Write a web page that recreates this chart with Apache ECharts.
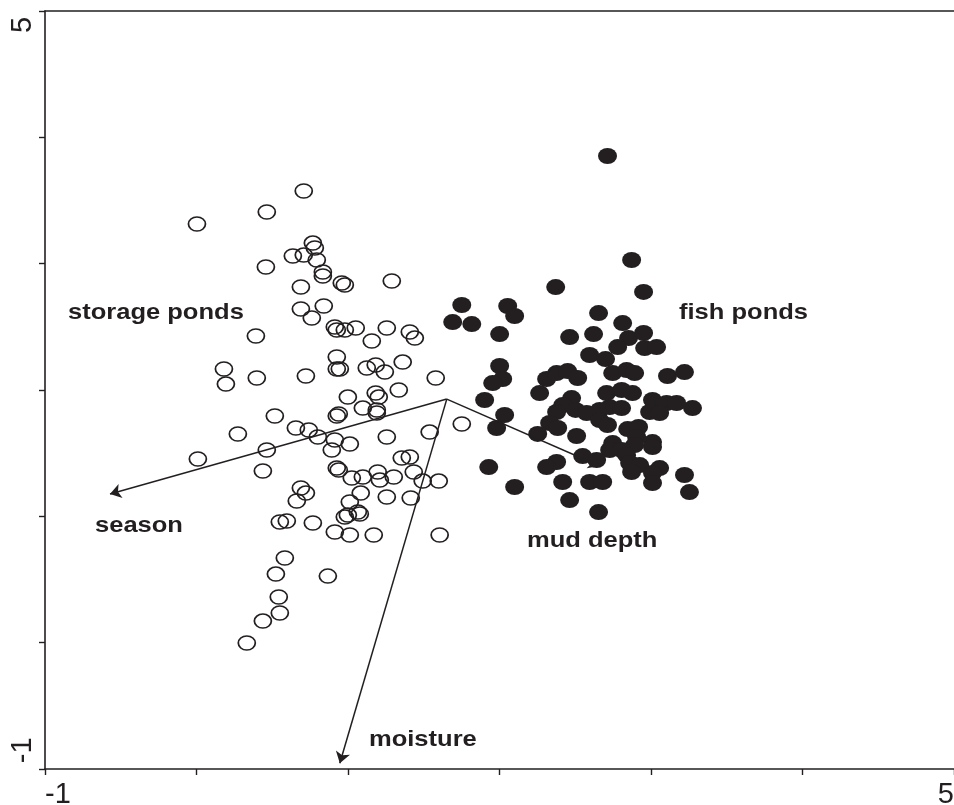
<!DOCTYPE html>
<html>
<head>
<meta charset="utf-8">
<script src="https://cdn.jsdelivr.net/npm/echarts@6/dist/echarts.min.js"></script>
<style>
html,body{margin:0;padding:0;background:#fff;}
#chart{width:954px;height:805px;}
</style>
</head>
<body>
<div id="chart"></div>
<script>
// Open circles: storage ponds (x, y)
const storagePonds = [
[0.708,3.575],[0.464,3.409],[0.003,3.314],[0.768,3.163],[0.781,3.124],[0.636,3.061],[0.708,3.068],[0.794,3.029],
[0.458,2.974],[0.834,2.934],[0.834,2.902],[0.689,2.815],[0.689,2.641],[0.761,2.570],[0.840,2.665],[0.392,2.427],
[0.181,2.166],[0.194,2.047],[0.398,2.095],[0.722,2.111],[0.959,2.847],[0.979,2.831],[1.289,2.863],[0.913,2.499],
[0.926,2.475],[0.979,2.475],[1.051,2.491],[1.256,2.491],[1.408,2.459],[1.441,2.411],[1.157,2.388],[0.926,2.261],
[0.926,2.166],[0.946,2.166],[1.124,2.174],[1.183,2.198],[1.243,2.142],[1.361,2.221],[1.579,2.095],[0.999,1.944],
[1.183,1.976],[1.203,1.944],[1.335,2.000],[1.098,1.857],[1.190,1.842],[1.190,1.818],[0.517,1.794],[0.926,1.794],
[0.939,1.810],[0.273,1.652],[0.656,1.699],[0.741,1.683],[0.801,1.628],[0.913,1.604],[1.012,1.572],[1.256,1.628],
[1.539,1.667],[1.751,1.731],[0.464,1.525],[0.893,1.525],[0.009,1.454],[0.438,1.359],[0.926,1.382],[0.939,1.367],
[1.025,1.303],[1.098,1.311],[1.196,1.351],[1.210,1.287],[1.302,1.311],[1.355,1.462],[1.408,1.470],[1.434,1.351],
[1.493,1.279],[1.599,1.279],[0.689,1.224],[0.722,1.184],[0.662,1.121],[1.084,1.184],[1.012,1.113],[0.979,0.995],
[0.999,1.010],[1.065,1.034],[1.078,1.018],[1.256,1.153],[1.414,1.145],[0.550,0.955],[0.596,0.963],[0.768,0.947],
[0.913,0.876],[1.012,0.852],[1.170,0.852],[1.605,0.852],[0.583,0.670],[0.524,0.543],[0.867,0.527],[0.543,0.361],
[0.550,0.235],[0.438,0.171],[0.332,-0.003]
];

// Filled circles: fish ponds (x, y)
const fishPonds = [
[2.713,3.852],[2.872,3.029],[2.371,2.815],[2.951,2.776],[1.751,2.673],[1.691,2.538],[1.817,2.522],[2.054,2.665],
[2.100,2.586],[2.001,2.443],[2.654,2.609],[2.813,2.530],[2.621,2.443],[2.463,2.419],[2.852,2.411],[2.951,2.451],
[2.780,2.340],[2.958,2.332],[3.037,2.340],[2.595,2.277],[2.700,2.245],[2.001,2.190],[2.021,2.087],[1.955,2.055],
[2.311,2.087],[2.377,2.134],[2.450,2.150],[2.516,2.095],[2.747,2.134],[2.839,2.158],[2.892,2.134],[3.109,2.111],
[3.221,2.142],[2.265,1.976],[2.476,1.936],[2.707,1.976],[2.806,2.000],[2.878,1.976],[1.902,1.921],[2.417,1.881],
[2.377,1.826],[2.502,1.842],[2.575,1.818],[2.661,1.842],[2.727,1.865],[2.806,1.857],[3.010,1.921],[3.103,1.897],
[3.169,1.897],[3.274,1.857],[2.991,1.826],[3.057,1.818],[2.034,1.802],[1.981,1.699],[2.331,1.739],[2.384,1.699],
[2.661,1.762],[2.713,1.723],[2.846,1.691],[2.918,1.707],[2.252,1.652],[2.509,1.636],[2.747,1.580],[2.727,1.525],
[2.905,1.628],[2.892,1.564],[3.010,1.588],[3.010,1.549],[2.549,1.477],[2.641,1.446],[2.806,1.525],[2.839,1.485],
[2.377,1.430],[2.311,1.390],[2.859,1.422],[2.925,1.406],[2.872,1.351],[3.057,1.382],[3.010,1.343],[3.010,1.264],
[3.221,1.327],[3.254,1.192],[1.929,1.390],[2.100,1.232],[2.417,1.272],[2.595,1.272],[2.681,1.272],[2.463,1.129],
[2.654,1.034]
];

// Biplot arrows: common origin and end points
const arrowOrigin = [1.652, 1.928];
const arrowNames = ['season', 'moisture', 'mud depth'];
const arrowEnds = [[-0.571, 1.177], [0.946, -0.954], [2.661, 1.398]];

// Axis tick labels shown
const xTickLabels = [-1, 5];
const yTickLabels = [-1, 5];

const INK = '#231f20';
const chart = echarts.init(document.getElementById('chart'), null, {renderer: 'canvas'});

const labelFont = 'bold 22px "Liberation Sans", Arial, Helvetica, sans-serif';
function annot(text, x, y) {
  return {type: 'text', x: x, y: y, scaleX: 1.16, z: 100,
    style: {text: text, font: labelFont, fill: INK, textAlign: 'left', textVerticalAlign: 'middle'}};
}

const axisCommon = {
  type: 'value', min: -1, max: 5, interval: 1,
  splitLine: {show: false},
  axisLine: {show: true, onZero: false, lineStyle: {color: INK, width: 1.6}},
  axisTick: {show: true, length: 6, lineStyle: {color: INK, width: 1.4}}
};

const tickFont = '"Liberation Sans", Arial, sans-serif';
const THIN = '\u2009';

chart.setOption({
  animation: false,
  backgroundColor: '#ffffff',
  grid: {left: 45, top: 11, right: 0, bottom: 36, containLabel: false, outerBoundsMode: 'none'},
  xAxis: [
    Object.assign({}, axisCommon, {
      position: 'bottom',
      axisLabel: {
        show: true, fontSize: 29, color: INK, margin: 11,
        fontFamily: tickFont,
        showMinLabel: true, showMaxLabel: true,
        alignMinLabel: 'left', alignMaxLabel: 'right',
        formatter: v => xTickLabels.includes(v) ? String(v) : ''
      }
    }),
    Object.assign({}, axisCommon, {
      position: 'top', axisTick: {show: false}, axisLabel: {show: false}
    })
  ],
  yAxis: [
    Object.assign({}, axisCommon, {
      position: 'left',
      axisLabel: {
        show: true, color: INK, margin: 8, rotate: 90, fontSize: 29,
        fontFamily: tickFont,
        showMinLabel: true, showMaxLabel: true,
        alignMinLabel: 'left', alignMaxLabel: 'right',
        formatter: v => {
          if (!yTickLabels.includes(v)) return '';
          return v === 5 ? String(v) + THIN : THIN + String(v);
        }
      }
    })
  ],
  series: [
    {
      name: 'storage ponds', type: 'scatter', xAxisIndex: 0, yAxisIndex: 0,
      data: storagePonds, symbol: 'circle', symbolSize: [17, 14],
      itemStyle: {color: 'rgba(0,0,0,0)', borderColor: INK, borderWidth: 1.6, opacity: 1},
      z: 3
    },
    {
      name: 'fish ponds', type: 'scatter', xAxisIndex: 0, yAxisIndex: 0,
      data: fishPonds, symbol: 'circle', symbolSize: [19, 16],
      itemStyle: {color: INK, opacity: 1},
      z: 3
    },
    {
      name: 'arrows', type: 'lines', coordinateSystem: 'cartesian2d', xAxisIndex: 0, yAxisIndex: 0,
      data: arrowEnds.map((e, i) => ({name: arrowNames[i], coords: [arrowOrigin, e]})),
      symbol: ['none', 'arrow'], symbolSize: 11,
      lineStyle: {color: INK, width: 1.5, opacity: 1, curveness: 0},
      z: 5
    }
  ],
  graphic: [
    annot('storage ponds', 68, 313),
    annot('fish ponds', 679, 313),
    annot('season', 95, 526),
    annot('mud depth', 527, 541),
    annot('moisture', 369, 740)
  ]
});
</script>
</body>
</html>
